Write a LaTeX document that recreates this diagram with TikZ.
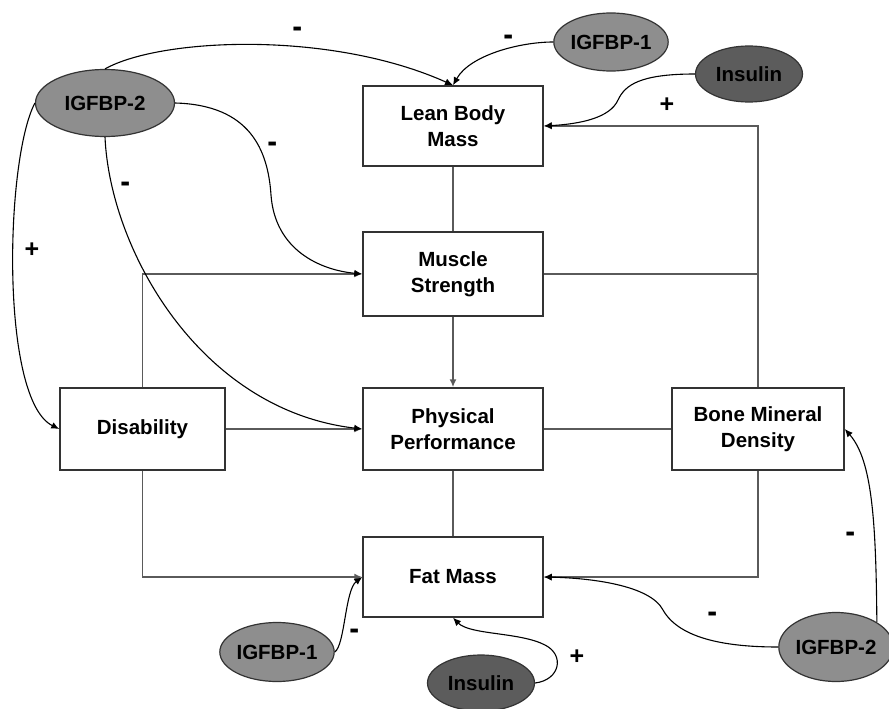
\documentclass[tikz,border=0pt]{standalone}
\usepackage{fontspec}
\usepackage{graphicx}
\setmainfont{Liberation Sans}
\usetikzlibrary{shapes.geometric,arrows.meta}
\definecolor{ellL}{HTML}{8E8E8E}
\definecolor{ellD}{HTML}{5C5C5C}
\definecolor{conn}{HTML}{5A5A5A}
\tikzset{
  box/.style={draw=black!80, line width=1.5pt, fill=white, minimum width=180pt, minimum height=80pt, inner sep=0pt, align=center, font=\fontsize{20.5}{26.5}\selectfont\bfseries},
  ell/.style={ellipse, draw=black!80, line width=1.2pt, fill=ellL, inner sep=0pt, font=\fontsize{20.5}{24}\selectfont\bfseries},
  insl/.style={ell, fill=ellD},
  link/.style={draw=conn, line width=1.9pt},
  arr/.style={link, -{Latex[length=8pt,width=7pt]}},
  curve/.style={draw=black, line width=1.1pt, -{Latex[length=8pt,width=7pt]}},
  minus/.style={font=\fontsize{15}{15}\selectfont\bfseries, inner sep=0pt},
  plus/.style={font=\fontsize{25}{25}\selectfont\bfseries, inner sep=0pt}
}
\newcommand{\minussign}{\scalebox{1}[2.6]{--}}
\begin{document}
\begin{tikzpicture}[x=1pt,y=-1pt]
\useasboundingbox (0,0) rectangle (889,709);
% boxes
\node[box] (lbm) at (453,126) {Lean Body\\Mass};
\node[box, minimum height=84pt] (ms) at (453,274) {Muscle\\Strength};
\node[box, minimum height=82pt] (pp) at (453,429) {Physical\\Performance};
\node[box] (fm) at (453,577) {Fat Mass};
\node[box, minimum width=165pt, minimum height=82pt] (dis) at (142.5,429) {Disability};
\node[box, minimum width=172pt, minimum height=82pt] (bmd) at (758,429) {Bone Mineral\\Density};
% ellipses
\node[ell, minimum width=139pt, minimum height=67pt] (g2a) at (105,103) {IGFBP-2};
\node[ell, minimum width=108pt, minimum height=58pt] (g1a) at (611,42) {IGFBP-1};
\node[insl, minimum width=107pt, minimum height=56pt] (insa) at (749,74) {Insulin};
\node[ell, minimum width=109pt, minimum height=59pt] (g1b) at (277,652) {IGFBP-1};
\node[insl, minimum width=107pt, minimum height=56pt] (insb) at (481,683) {Insulin};
\node[ell, minimum width=104pt, minimum height=69pt] (g2b) at (836,647) {IGFBP-2};
% box connectors
\draw[link] (lbm.south) -- (ms.north);
\draw[arr] (ms.south) -- (pp.north);
\draw[link] (pp.south) -- (fm.north);
\draw[arr] (dis.east) -- (pp.west);
\draw[link] (pp.east) -- (bmd.west);
\draw[arr] (dis.north) |- (ms.west);
\draw[arr] (dis.south) |- (fm.west);
\draw[arr] (bmd.south) |- (fm.east);
\draw[arr] (bmd.north) |- (lbm.east);
\coordinate (jr) at (bmd.north |- ms.east);
\draw[link] (ms.east) -- (jr);
% curves
\draw[curve] (g2a.north) .. controls (160,38) and (330,30) .. (lbm.north);
\draw[curve] (g1a.west) .. controls (520,42) and (470,55) .. (lbm.north);
\draw[curve] (insa.west) .. controls (640,74) and (625,85) .. (618,100) .. controls (610,118) and (580,124) .. (lbm.east);
\draw[curve] (g2a.east) .. controls (250,105) and (268,150) .. (271,195) .. controls (275,250) and (320,270) .. (ms.west);
\draw[curve] (g2a.south) .. controls (110,250) and (200,410) .. (pp.west);
\draw[curve] (g2a.west) .. controls (5,160) and (0,400) .. (dis.west);
\draw[curve] (g1b.east) .. controls (345,645) and (345,590) .. (fm.west);
\draw[curve] (insb.east) .. controls (560,680) and (565,655) .. (545,645) .. controls (520,632) and (470,635) .. (fm.south);
\draw[curve] (g2b.west) .. controls (730,647) and (680,640) .. (663,610) .. controls (650,585) and (590,578) .. (fm.east);
\draw[curve] (g2b.north east) .. controls (876,520) and (872,460) .. (bmd.east);
% signs
\node[minus] (s1) at (298,33) {\minussign};
\node[minus] (s2) at (509,41) {\minussign};
\node[plus] (s3) at (667,105) {+};
\node[minus] (s4) at (273,148) {\minussign};
\node[minus] (s5) at (126,188) {\minussign};
\node[plus] (s6) at (32,250) {+};
\node[minus] (s7) at (355,635) {\minussign};
\node[plus] (s8) at (577,657) {+};
\node[minus] (s9) at (713,618) {\minussign};
\node[minus] (s10) at (851,538) {\minussign};
\end{tikzpicture}
\end{document}
